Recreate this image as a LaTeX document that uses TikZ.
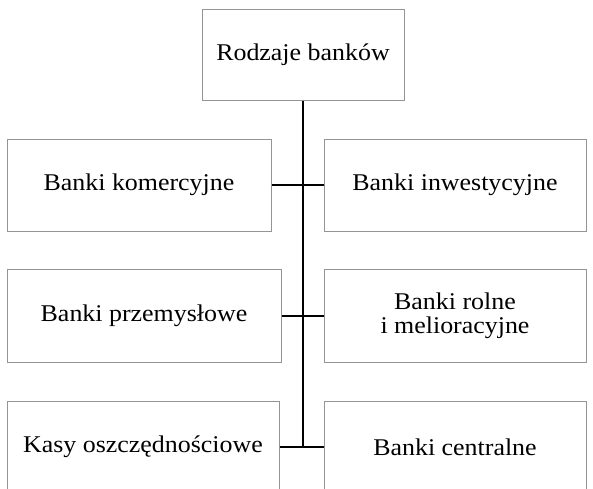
\documentclass[tikz,border=0pt]{standalone}
\usepackage{fontspec}
\setmainfont{Liberation Serif}[FakeStretch=1.08]
\begin{document}
\begin{tikzpicture}[x=1pt,y=-1pt,
  box/.style={draw=black!42, line width=1pt, fill=white, inner sep=0pt, align=center,
    font=\fontsize{24}{24}\selectfont},
  conn/.style={draw=black, line width=2pt}]
\useasboundingbox (0,0) rectangle (593,488);
\fill[white] (0,0) rectangle (593,488);
\clip (0,0) rectangle (593,488);
\node[box, minimum width=202pt, minimum height=91pt] (top) at (303,54.5) {Rodzaje banków};
\node[box, minimum width=264pt, minimum height=92pt] (r1l) at (139,185) {Banki komercyjne};
\node[box, minimum width=262pt, minimum height=92pt] (r1r) at (455,185) {Banki inwestycyjne};
\node[box, minimum width=274pt, minimum height=93pt] (r2l) at (144,316) {Banki przemysłowe};
\node[box, minimum width=262pt, minimum height=93pt] (r2r) at (455,316) {Banki rolne\\i melioracyjne};
\node[box, minimum width=272pt, minimum height=92pt] (r3l) at (143,447) {Kasy oszczędnościowe};
\node[box, minimum width=262pt, minimum height=92pt] (r3r) at (455,447) {Banki centralne};
\coordinate (vend) at (top.south |- r3l.east);
\draw[conn] (top.south) -- (vend);
\draw[conn] (r1l.east) -- (r1r.west);
\draw[conn] (r2l.east) -- (r2r.west);
\draw[conn] (r3l.east) -- (r3r.west);
\end{tikzpicture}
\end{document}
